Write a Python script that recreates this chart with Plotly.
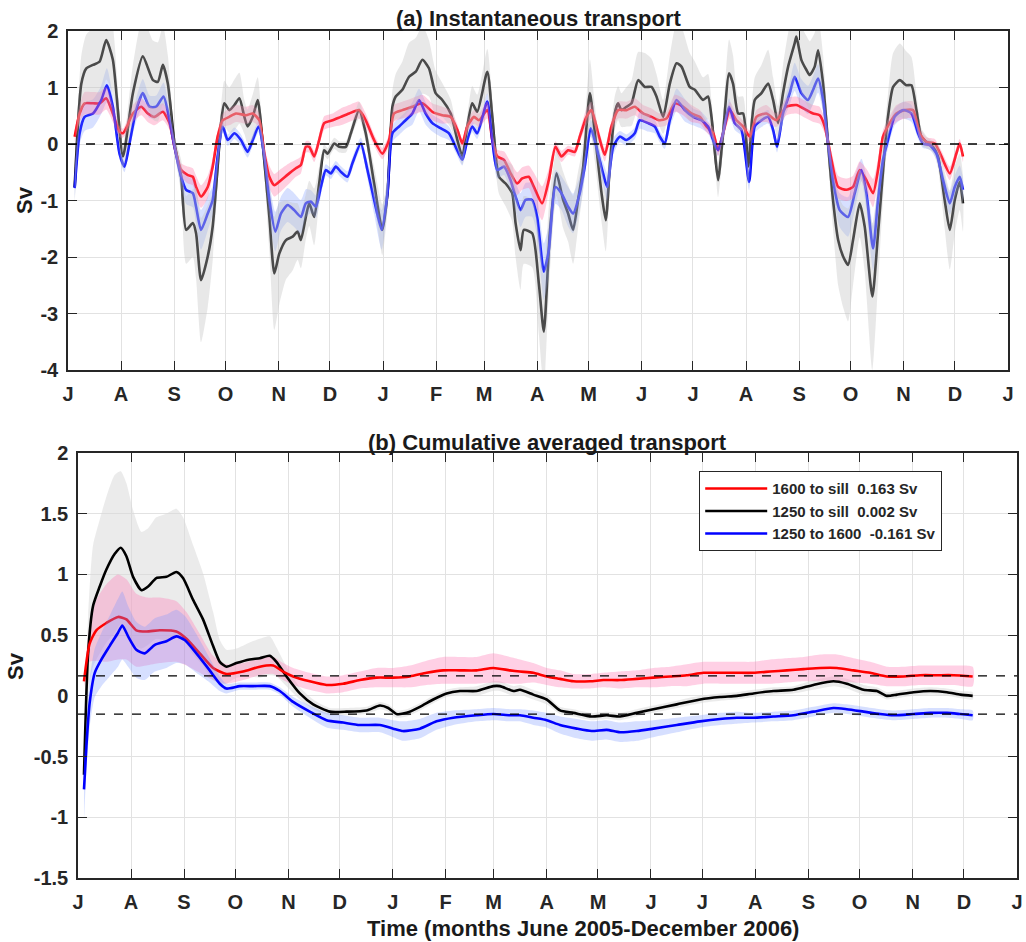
import numpy as np
import pandas as pd
import plotly.graph_objects as go

START = pd.Timestamp("2005-07-01")

# ---------------- month ticks ----------------
month_starts = pd.date_range("2005-07-01", "2007-01-01", freq="MS")
month_labels = ["J", "A", "S", "O", "N", "D", "J", "F", "M", "A", "M", "J",
                "J", "A", "S", "O", "N", "D", "J"]

# ---------------- (a) instantaneous transport ----------------
# days since 2005-07-01, value (Sv), half-width of shaded band (Sv)
a_black_day = [3.9, 7.8, 10.7, 14.6, 18.5, 22.3, 26.2, 32.1, 37.9, 43.7, 49.6, 52.5, 55.4, 58.3, 62.2, 66.1,
               69.0, 72.9, 74.8, 77.7, 81.6, 84.5, 87.4, 89.4, 91.3, 94.2, 97.2, 100.1, 103.0, 104.9, 107.9,
               110.8, 113.7, 117.6, 120.5, 123.4, 127.3, 131.2, 134.1, 136.0, 138.9, 140.9, 143.8, 146.7,
               149.6, 151.6, 155.5, 158.4, 162.3, 165.2, 170.0, 173.9, 178.8, 183.6, 186.6, 189.5, 191.4,
               195.3, 199.2, 203.1, 207.0, 210.8, 214.7, 218.6, 223.5, 227.4, 230.3, 233.2, 236.1, 239.0,
               244.9, 247.8, 251.7, 255.6, 259.4, 261.4, 264.3, 266.2, 271.1, 275.0, 277.9, 281.4, 285.3,
               289.2, 292.1, 295.0, 297.9, 300.9, 304.8, 307.7, 311.6, 314.1, 316.4, 319.3, 321.3, 323.2,
               326.2, 329.1, 333.0, 336.9, 340.8, 343.7, 347.6, 351.5, 355.4, 358.3, 363.1, 366.1, 370.9,
               373.8, 375.8, 377.7, 379.7, 382.6, 386.1, 388.4, 391.4, 394.3, 397.2, 401.1, 405.0, 408.9,
               411.8, 414.7, 417.6, 420.6, 424.4, 425.4, 428.3, 431.3, 433.2, 436.1, 438.1, 441.0, 443.9,
               446.8, 449.8, 452.7, 455.6, 458.5, 462.4, 465.3, 469.8, 473.1, 477.0, 478.9, 481.9, 485.8,
               489.6, 492.6, 495.5, 498.4, 502.3, 505.2, 508.1, 512.0, 515.0, 517.9, 520.8, 522.7]
a_black_val = [-0.76, 1.07, 1.34, 1.40, 1.46, 1.84, 1.49, -0.22, 0.90, 1.55, 1.13, 1.10, 1.40, 1.07, 0.01, -0.58,
               -1.52, -1.40, -1.58, -2.41, -1.99, -1.46, -0.40, 0.37, 0.72, 0.60, 0.69, 0.81, 0.48, 0.31, 0.48,
               0.78, 0.01, -1.29, -2.29, -1.94, -1.70, -1.64, -1.55, -1.70, -1.29, -1.05, -1.29, -0.70,
               -0.11, -0.17, 0.01, -0.05, -0.05, 0.19, 0.60, 0.19, -0.70, -1.52, -0.87, 0.66, 0.84,
               0.96, 1.19, 1.28, 1.49, 1.34, 0.90, 0.78, 0.54, 0.07, -0.22, 0.31, 0.72, 0.57,
               1.28, 0.48, -0.58, -0.70, -0.87, -1.40, -1.88, -1.52, -1.58, -2.47, -3.32, -1.58, -0.52,
               -0.99, -1.23, -1.52, -0.99, -0.40, 0.90, 0.19, -0.87, -1.35, -0.40, 0.54, 0.72, 0.60,
               0.66, 0.72, 1.13, 1.01, 1.01, 0.84, 0.48, 1.07, 1.43, 1.37, 1.01, 0.96, 0.78,
               0.84, 0.48, -0.11, -0.64, 0.19, 1.25, 1.07, 0.54, 0.54, -0.40, 0.78, 0.90, 1.07,
               0.78, 0.37, 0.90, 1.37, 1.78, 1.90, 1.49, 1.31, 1.22, 1.37, 1.66, 1.07, 0.01,
               -0.99, -1.70, -1.99, -2.14, -1.70, -1.05, -1.46, -2.70, -1.58, -0.11, 0.48, 1.01, 1.13,
               1.04, 1.04, 0.60, 0.13, 0.01, -0.05, -0.22, -0.99, -1.52, -0.99, -0.67, -1.05]
a_black_hw = [0.3, 0.5, 0.6, 0.65, 0.7, 0.7, 0.6, 0.2, 0.5, 0.7, 0.7, 0.7, 0.7, 0.5, 0.15, 0.3,
              0.6, 0.6, 0.8, 1.1, 0.9, 0.6, 0.3, 0.3, 0.4, 0.4, 0.45, 0.45, 0.3, 0.3, 0.4,
              0.4, 0.2, 0.6, 1.0, 0.9, 0.7, 0.6, 0.5, 0.5, 0.4, 0.4, 0.5, 0.3,
              0.1, 0.1, 0.1, 0.1, 0.1, 0.1, 0.15, 0.15, 0.3, 0.45, 0.3, 0.3, 0.4,
              0.5, 0.6, 0.6, 0.6, 0.5, 0.4, 0.3, 0.25, 0.15, 0.15, 0.2, 0.3, 0.3,
              0.4, 0.3, 0.3, 0.4, 0.5, 0.6, 0.7, 0.6, 0.6, 0.9, 1.0, 0.7, 0.4,
              0.5, 0.5, 0.6, 0.5, 0.4, 0.6, 0.5, 0.5, 0.55, 0.4, 0.3, 0.3, 0.3,
              0.35, 0.4, 0.5, 0.6, 0.5, 0.4, 0.3, 0.5, 0.7, 0.7, 0.6, 0.5, 0.4,
              0.4, 0.3, 0.2, 0.3, 0.3, 0.6, 0.5, 0.3, 0.3, 0.3, 0.4, 0.5, 0.6,
              0.4, 0.3, 0.5, 0.6, 0.7, 0.7, 0.6, 0.6, 0.6, 0.6, 0.6, 0.5, 0.3,
              0.5, 0.8, 0.9, 1.0, 0.8, 0.6, 0.8, 1.3, 0.9, 0.4, 0.4, 0.6, 0.65,
              0.6, 0.5, 0.3, 0.15, 0.1, 0.1, 0.2, 0.5, 0.7, 0.6, 0.5, 0.5]

a_red_day = [3.9, 6.8, 9.7, 14.6, 18.5, 22.3, 26.2, 30.1, 32.1, 34.0, 37.9, 42.8, 46.6, 50.5, 55.4, 59.3,
             62.2, 66.1, 70.0, 72.9, 74.8, 77.7, 81.6, 84.5, 87.4, 90.4, 94.2, 98.1, 104.0, 107.9, 111.7,
             114.7, 117.6, 120.5, 124.4, 129.2, 133.1, 136.0, 138.9, 140.9, 143.8, 146.7, 149.6, 154.5,
             159.3, 164.2, 170.0, 173.9, 178.8, 183.6, 187.5, 190.4, 195.3, 201.1, 207.0, 212.8, 218.6,
             223.5, 227.4, 230.3, 233.2, 237.1, 240.0, 244.9, 247.8, 250.7, 254.6, 258.5, 262.3, 265.3,
             269.1, 272.1, 276.9, 280.8, 284.7, 288.2, 292.1, 296.0, 298.9, 302.8, 305.7, 309.6, 313.5,
             317.4, 321.3, 326.2, 331.0, 335.9, 340.8, 345.6, 349.5, 354.4, 359.2, 364.1, 369.0, 372.9,
             376.8, 379.7, 382.6, 386.5, 390.4, 394.3, 398.2, 402.1, 407.9, 413.7, 419.6, 425.4, 431.3,
             435.2, 439.0, 442.0, 445.9, 449.8, 454.6, 458.5, 462.4, 466.3, 470.2, 473.1, 476.0, 479.9,
             483.8, 488.7, 493.5, 497.4, 501.3, 506.2, 510.1, 515.0, 518.8, 520.8, 522.7]
a_red_val = [0.13, 0.54, 0.72, 0.72, 0.72, 0.81, 0.54, 0.22, 0.19, 0.28, 0.54, 0.66, 0.54, 0.48, 0.57, 0.37,
             -0.05, -0.46, -0.55, -0.58, -0.76, -0.93, -0.76, -0.40, 0.13, 0.42, 0.48, 0.54, 0.51, 0.54, 0.42,
             -0.17, -0.58, -0.73, -0.64, -0.52, -0.43, -0.37, -0.05, -0.05, -0.22, 0.07, 0.37, 0.42,
             0.48, 0.54, 0.60, 0.42, 0.07, -0.17, 0.07, 0.54, 0.60, 0.66, 0.72, 0.57, 0.51,
             0.48, 0.25, 0.01, 0.31, 0.48, 0.42, 0.60, 0.07, -0.22, -0.28, -0.52, -0.70, -0.61,
             -0.58, -0.76, -1.05, -0.64, -0.05, -0.22, -0.11, -0.14, 0.13, 0.48, 0.60, 0.19, -0.19,
             0.31, 0.60, 0.60, 0.66, 0.54, 0.48, 0.42, 0.45, 0.72, 0.66, 0.54, 0.48, 0.31,
             0.19, -0.11, 0.19, 0.60, 0.42, 0.31, 0.13, 0.48, 0.54, 0.42, 0.66, 0.69, 0.60,
             0.54, 0.51, 0.31, -0.28, -0.76, -0.81, -0.76, -0.46, -0.64, -0.87, -0.46, 0.13, 0.37,
             0.54, 0.60, 0.60, 0.19, 0.04, 0.01, -0.22, -0.52, -0.17, 0.01, -0.22]
a_red_hw = [0.1, 0.15, 0.2, 0.2, 0.2, 0.2, 0.15, 0.1, 0.08, 0.1, 0.15, 0.15, 0.15, 0.15, 0.15, 0.12,
            0.1, 0.12, 0.15, 0.15, 0.2, 0.2, 0.2, 0.15, 0.1, 0.12, 0.15, 0.15, 0.15, 0.15, 0.12,
            0.12, 0.2, 0.2, 0.2, 0.18, 0.15, 0.15, 0.1, 0.1, 0.1, 0.1, 0.12, 0.12,
            0.15, 0.15, 0.15, 0.12, 0.1, 0.1, 0.1, 0.15, 0.15, 0.15, 0.15, 0.15, 0.15,
            0.12, 0.1, 0.08, 0.1, 0.12, 0.12, 0.15, 0.1, 0.12, 0.15, 0.2, 0.2, 0.2,
            0.2, 0.25, 0.3, 0.2, 0.1, 0.1, 0.08, 0.08, 0.1, 0.15, 0.15, 0.12, 0.12,
            0.12, 0.15, 0.15, 0.15, 0.15, 0.15, 0.12, 0.12, 0.15, 0.15, 0.15, 0.12, 0.1,
            0.1, 0.1, 0.1, 0.15, 0.12, 0.1, 0.1, 0.12, 0.15, 0.12, 0.15, 0.15, 0.15,
            0.15, 0.15, 0.12, 0.15, 0.2, 0.2, 0.2, 0.15, 0.2, 0.25, 0.2, 0.12, 0.12,
            0.15, 0.15, 0.15, 0.1, 0.08, 0.08, 0.1, 0.12, 0.1, 0.08, 0.1]

a_blue_day = [3.9, 6.8, 9.7, 14.6, 19.4, 22.7, 26.2, 30.1, 33.0, 35.9, 39.8, 43.7, 47.6, 51.5, 55.8, 59.3,
              62.2, 66.1, 69.0, 72.9, 74.8, 77.7, 81.6, 84.5, 87.4, 90.4, 93.3, 97.2, 101.0, 104.9, 107.9,
              111.3, 114.7, 117.6, 121.1, 124.4, 128.3, 132.1, 136.0, 138.9, 141.9, 144.8, 147.7, 150.6,
              153.5, 156.4, 159.3, 163.2, 166.1, 171.0, 174.9, 178.8, 183.2, 186.6, 189.5, 193.4, 197.2,
              201.1, 205.0, 208.9, 212.8, 217.6, 222.5, 226.4, 230.3, 233.2, 236.1, 239.0, 244.9, 247.8,
              250.7, 254.6, 258.5, 261.4, 264.3, 267.2, 271.1, 274.0, 277.9, 280.8, 284.7, 288.2, 292.1,
              295.0, 298.9, 301.8, 305.3, 308.6, 312.5, 314.9, 318.4, 322.3, 326.2, 331.0, 333.9, 338.8,
              342.7, 345.6, 348.5, 351.5, 355.4, 360.2, 365.1, 369.9, 373.8, 376.8, 379.7, 382.6, 386.1,
              389.4, 393.3, 397.8, 401.1, 405.0, 408.9, 411.8, 414.1, 417.6, 421.5, 424.4, 428.3, 432.2,
              435.2, 438.1, 441.0, 443.9, 446.8, 450.7, 455.6, 459.5, 463.4, 466.3, 470.2, 473.1, 476.0,
              478.9, 482.8, 487.7, 492.6, 496.5, 499.4, 503.3, 507.2, 511.1, 515.0, 517.9, 520.8, 522.7]
a_blue_val = [-0.78, 0.19, 0.48, 0.54, 0.78, 1.04, 0.66, -0.17, -0.40, 0.01, 0.60, 0.90, 0.66, 0.66, 0.84, 0.42,
              -0.05, -0.58, -0.81, -0.87, -1.11, -1.52, -1.23, -0.99, -0.22, 0.31, 0.07, 0.19, 0.07, -0.14, 0.07,
              0.31, -0.22, -0.99, -1.55, -1.23, -1.08, -1.17, -1.29, -1.05, -1.02, -1.11, -0.76, -0.46,
              -0.52, -0.40, -0.49, -0.58, -0.34, 0.01, -0.46, -0.99, -1.52, -0.87, 0.19, 0.31, 0.42,
              0.54, 0.78, 0.54, 0.37, 0.28, 0.19, -0.05, -0.28, 0.07, 0.31, 0.19, 0.75, 0.07,
              -0.46, -0.40, -0.64, -0.93, -1.17, -0.99, -0.99, -1.29, -2.26, -1.88, -0.76, -0.87, -1.11,
              -1.23, -0.87, -0.40, 0.28, -0.05, -0.52, -0.76, -0.05, 0.13, 0.07, 0.19, 0.42, 0.37,
              0.31, 0.13, 0.01, 0.42, 0.78, 0.60, 0.48, 0.42, 0.31, 0.07, -0.11, 0.19, 0.66,
              0.37, 0.25, -0.67, 0.31, 0.42, 0.48, 0.25, -0.05, 0.54, 0.90, 1.19, 0.90, 0.78,
              0.96, 1.16, 0.78, 0.01, -0.64, -1.17, -1.29, -0.87, -0.46, -0.87, -1.85, -0.99, -0.28,
              0.07, 0.48, 0.60, 0.54, 0.19, 0.01, -0.02, -0.17, -0.64, -1.05, -0.76, -0.58, -0.81]
a_blue_hw = [0.2, 0.2, 0.25, 0.25, 0.25, 0.3, 0.2, 0.1, 0.1, 0.1, 0.2, 0.25, 0.2, 0.2, 0.25, 0.15,
             0.1, 0.2, 0.25, 0.25, 0.3, 0.35, 0.3, 0.25, 0.15, 0.1, 0.1, 0.1, 0.1, 0.1, 0.1,
             0.1, 0.15, 0.3, 0.35, 0.3, 0.3, 0.3, 0.3, 0.25, 0.2, 0.2, 0.15, 0.1,
             0.1, 0.1, 0.1, 0.1, 0.1, 0.1, 0.15, 0.25, 0.35, 0.25, 0.15, 0.15, 0.15,
             0.2, 0.2, 0.2, 0.15, 0.15, 0.12, 0.1, 0.1, 0.1, 0.1, 0.1, 0.15, 0.1,
             0.15, 0.15, 0.2, 0.25, 0.3, 0.3, 0.3, 0.35, 0.5, 0.45, 0.3, 0.3, 0.35,
             0.35, 0.3, 0.2, 0.15, 0.15, 0.2, 0.25, 0.15, 0.1, 0.1, 0.1, 0.15, 0.15,
             0.12, 0.1, 0.1, 0.15, 0.2, 0.2, 0.15, 0.15, 0.12, 0.1, 0.1, 0.1, 0.15,
             0.12, 0.1, 0.15, 0.12, 0.12, 0.12, 0.1, 0.1, 0.15, 0.2, 0.25, 0.25, 0.25,
             0.25, 0.25, 0.2, 0.15, 0.2, 0.3, 0.35, 0.3, 0.2, 0.3, 0.4, 0.3, 0.2,
             0.15, 0.15, 0.15, 0.15, 0.1, 0.08, 0.08, 0.1, 0.15, 0.2, 0.2, 0.2, 0.2]

# ---------------- (b) cumulative averaged transport ----------------
b_black_day = [3.5, 5.9, 8.8, 12.7, 16.6, 21.5, 25.0, 28.3, 32.2, 37.1, 41.0, 45.8, 51.7, 57.5, 61.4, 67.3,
               73.1, 79.0, 82.9, 86.8, 92.6, 100.4, 106.3, 112.1, 116.0, 121.9, 129.7, 137.5, 147.2, 157.0,
               168.7, 176.5, 181.4, 186.2, 192.1, 199.9, 207.7, 215.5, 223.3, 233.0, 242.8, 246.7, 254.5,
               258.4, 266.2, 274.0, 281.8, 289.6, 300.3, 309.1, 316.9, 326.7, 336.4, 350.1, 363.7, 375.4,
               385.2, 394.9, 406.6, 418.3, 430.0, 441.7, 449.5, 459.3, 467.1, 472.9, 478.8, 488.5, 498.3,
               508.0, 515.9, 523.1]
b_black_val = [-0.65, 0.35, 0.74, 0.90, 1.04, 1.17, 1.22, 1.15, 0.98, 0.87, 0.90, 0.97, 0.98, 1.02, 0.97, 0.79,
               0.63, 0.41, 0.28, 0.24, 0.27, 0.30, 0.31, 0.33, 0.28, 0.16, 0.02, -0.07, -0.13, -0.13,
               -0.12, -0.08, -0.10, -0.15, -0.14, -0.09, -0.03, 0.02, 0.04, 0.04, 0.08, 0.08, 0.04,
               0.05, 0.01, -0.03, -0.12, -0.14, -0.17, -0.16, -0.17, -0.14, -0.11, -0.07, -0.03, -0.01,
               0.00, 0.02, 0.04, 0.05, 0.09, 0.12, 0.10, 0.05, 0.04, 0.00, 0.01, 0.03, 0.04,
               0.03, 0.01, 0.00]
b_black_hw = [0.1, 0.3, 0.5, 0.55, 0.6, 0.65, 0.63, 0.6, 0.55, 0.48, 0.48, 0.5, 0.52, 0.52, 0.5, 0.45,
              0.38, 0.28, 0.18, 0.14, 0.12, 0.14, 0.16, 0.16, 0.12, 0.08, 0.05, 0.04, 0.03, 0.03,
              0.03, 0.03, 0.03, 0.03, 0.03, 0.03, 0.03, 0.03, 0.03, 0.04, 0.04, 0.04, 0.04,
              0.04, 0.04, 0.04, 0.03, 0.03, 0.03, 0.03, 0.03, 0.03, 0.03, 0.03, 0.03, 0.03,
              0.03, 0.03, 0.03, 0.03, 0.04, 0.04, 0.04, 0.04, 0.03, 0.03, 0.03, 0.03, 0.03,
              0.03, 0.03, 0.03]

b_red_day = [3.5, 6.8, 10.7, 16.6, 23.4, 28.3, 34.1, 40.0, 47.8, 57.5, 63.4, 71.2, 79.0, 86.8, 96.5, 106.3,
             114.1, 119.9, 125.8, 135.5, 145.3, 155.0, 164.8, 174.5, 184.3, 194.0, 203.8, 213.5, 223.3,
             233.0, 242.8, 252.5, 258.4, 266.2, 274.0, 281.8, 289.6, 299.4, 307.2, 316.9, 326.7, 336.4,
             346.2, 355.9, 365.7, 375.4, 385.2, 394.9, 404.7, 414.4, 424.2, 433.9, 443.7, 453.4, 463.2,
             472.9, 482.7, 492.4, 502.2, 511.9, 523.1]
b_red_val = [0.12, 0.43, 0.54, 0.60, 0.65, 0.63, 0.54, 0.53, 0.54, 0.53, 0.47, 0.35, 0.23, 0.18, 0.20, 0.24,
             0.25, 0.20, 0.16, 0.12, 0.09, 0.10, 0.13, 0.15, 0.15, 0.16, 0.19, 0.21, 0.21,
             0.21, 0.23, 0.21, 0.20, 0.19, 0.16, 0.14, 0.12, 0.12, 0.13, 0.13, 0.14, 0.15,
             0.16, 0.17, 0.19, 0.19, 0.19, 0.19, 0.20, 0.21, 0.22, 0.23, 0.23, 0.21, 0.19,
             0.16, 0.16, 0.17, 0.17, 0.17, 0.16]
b_red_hw = [0.05, 0.15, 0.25, 0.32, 0.35, 0.33, 0.3, 0.28, 0.27, 0.25, 0.22, 0.16, 0.1, 0.08, 0.07, 0.07,
            0.07, 0.07, 0.07, 0.07, 0.07, 0.07, 0.07, 0.08, 0.08, 0.09, 0.1, 0.11, 0.11,
            0.11, 0.12, 0.11, 0.1, 0.08, 0.07, 0.07, 0.06, 0.06, 0.06, 0.07, 0.07, 0.08,
            0.08, 0.09, 0.09, 0.09, 0.09, 0.09, 0.1, 0.1, 0.1, 0.11, 0.11, 0.1, 0.09,
            0.08, 0.08, 0.08, 0.08, 0.08, 0.08]

b_blue_day = [3.5, 4.9, 6.8, 9.8, 13.7, 18.5, 23.4, 25.9, 29.3, 34.1, 39.0, 44.9, 51.7, 57.5, 62.4, 69.2,
              77.0, 82.9, 86.8, 94.6, 102.4, 112.1, 118.0, 125.8, 135.5, 145.3, 155.0, 164.8, 176.5, 184.3,
              190.1, 199.9, 209.6, 219.4, 233.0, 242.8, 252.5, 258.4, 266.2, 274.0, 281.8, 291.6, 300.3,
              309.1, 316.9, 326.7, 336.4, 350.1, 363.7, 375.4, 385.2, 394.9, 406.6, 418.3, 430.0, 441.7,
              449.5, 459.3, 469.0, 476.8, 488.5, 498.3, 508.0, 515.9, 523.1]
b_blue_val = [-0.77, -0.42, -0.06, 0.19, 0.30, 0.41, 0.52, 0.58, 0.49, 0.38, 0.35, 0.42, 0.45, 0.49, 0.46, 0.35,
              0.21, 0.10, 0.06, 0.08, 0.08, 0.08, 0.04, -0.05, -0.13, -0.20, -0.22, -0.24, -0.24, -0.27,
              -0.29, -0.27, -0.21, -0.18, -0.16, -0.15, -0.16, -0.16, -0.18, -0.20, -0.24, -0.27, -0.29,
              -0.28, -0.30, -0.29, -0.27, -0.24, -0.21, -0.19, -0.18, -0.18, -0.17, -0.16, -0.13, -0.10,
              -0.11, -0.13, -0.15, -0.16, -0.15, -0.14, -0.14, -0.15, -0.16]
b_blue_hw = [0.25, 0.2, 0.2, 0.2, 0.22, 0.25, 0.28, 0.28, 0.25, 0.23, 0.22, 0.22, 0.22, 0.22, 0.2, 0.16,
             0.1, 0.06, 0.04, 0.03, 0.03, 0.03, 0.03, 0.04, 0.05, 0.06, 0.06, 0.06, 0.06, 0.07,
             0.08, 0.08, 0.07, 0.06, 0.05, 0.05, 0.05, 0.05, 0.06, 0.06, 0.07, 0.08, 0.08,
             0.08, 0.08, 0.08, 0.07, 0.06, 0.05, 0.05, 0.05, 0.04, 0.04, 0.04, 0.04, 0.04,
             0.04, 0.04, 0.04, 0.04, 0.04, 0.04, 0.04, 0.04, 0.04]

b_ref_lines = [0.165, -0.15]
legend_names = ["1600 to sill\u00a0\u00a00.163 Sv", "1250 to sill\u00a0\u00a00.002 Sv",
                "1250 to 1600\u00a0\u00a0-0.161 Sv"]

a_yticks = [-4, -3, -2, -1, 0, 1, 2]
b_yticks = [-1.5, -1, -0.5, 0, 0.5, 1, 1.5, 2]


def to_dates(days):
    return START + pd.to_timedelta(np.asarray(days, dtype=float), unit="D")


SMOOTH = 0.6


def band(days, val, hw, color, xa, ya):
    d = list(to_dates(days))
    v = np.asarray(val)
    h = np.asarray(hw)
    up = v + h
    lo = v - h
    return go.Scatter(x=d + d[::-1], y=list(up) + list(lo[::-1]), fill="toself",
                      fillcolor=color, line=dict(width=0, shape="spline", smoothing=SMOOTH), mode="lines",
                      hoverinfo="skip", showlegend=False, xaxis=xa, yaxis=ya)


def line(days, val, color, xa, ya, name=None, show=False, rank=None, width=2.6):
    return go.Scatter(x=to_dates(days), y=val, mode="lines",
                      line=dict(color=color, width=width, shape="spline", smoothing=SMOOTH),
                      name=name, showlegend=show, legendrank=rank, xaxis=xa, yaxis=ya)


fig = go.Figure()

# ---- panel (a): lines first, translucent bands on top ----
fig.add_trace(line(a_black_day, a_black_val, "#000000", "x", "y"))
fig.add_trace(line(a_red_day, a_red_val, "#ff0000", "x", "y"))
fig.add_trace(line(a_blue_day, a_blue_val, "#0000ff", "x", "y"))
fig.add_trace(band(a_blue_day, a_blue_val, a_blue_hw, "rgba(110,145,255,0.28)", "x", "y"))
fig.add_trace(band(a_red_day, a_red_val, a_red_hw, "rgba(255,105,160,0.32)", "x", "y"))
fig.add_trace(band(a_black_day, a_black_val, a_black_hw, "rgba(195,195,195,0.38)", "x", "y"))

# ---- panel (b) ----
fig.add_trace(band(b_black_day, b_black_val, b_black_hw, "rgba(215,215,215,0.5)", "x2", "y2"))
fig.add_trace(band(b_red_day, b_red_val, b_red_hw, "rgba(255,120,180,0.35)", "x2", "y2"))
fig.add_trace(line(b_black_day, b_black_val, "#000000", "x2", "y2", legend_names[1], True, 2))
fig.add_trace(line(b_red_day, b_red_val, "#ff0000", "x2", "y2", legend_names[0], True, 1))
fig.add_trace(band(b_blue_day, b_blue_val, b_blue_hw, "rgba(120,150,255,0.3)", "x2", "y2"))
fig.add_trace(line(b_blue_day, b_blue_val, "#0000ff", "x2", "y2", legend_names[2], True, 3))

x0, x1 = month_starts[0], month_starts[-1]
fig.add_shape(type="line", xref="x", yref="y", x0=x0, x1=x1, y0=0, y1=0,
              line=dict(color="black", width=1.5, dash="dash"))
for yv in b_ref_lines:
    fig.add_shape(type="line", xref="x2", yref="y2", x0=x0, x1=x1, y0=yv, y1=yv,
                  line=dict(color="black", width=1.3, dash="dash"))

FONT = "Liberation Sans, Arial, sans-serif"
W, H = 1026, 942

xcommon = dict(type="date", range=[x0, x1], tickvals=list(month_starts), ticktext=month_labels,
               ticks="inside", ticklen=9, tickwidth=1.3, tickcolor="#262626",
               showline=True, linecolor="#262626", linewidth=1.5, mirror="allticks",
               showgrid=True, gridcolor="#e2e2e2", gridwidth=1, zeroline=False,
               tickfont=dict(family=FONT, size=20, color="#262626", weight="bold"),
               ticklabelstandoff=5, automargin=False)
ycommon = dict(ticks="inside", ticklen=9, tickwidth=1.3, tickcolor="#262626",
               showline=True, linecolor="#262626", linewidth=1.5, mirror="allticks",
               showgrid=True, gridcolor="#e2e2e2", gridwidth=1, zeroline=False,
               tickfont=dict(family=FONT, size=20, color="#262626", weight="bold"),
               ticklabelstandoff=4, automargin=False)

fig.update_layout(
    width=W, height=H, margin=dict(l=0, r=0, t=0, b=0, autoexpand=False),
    paper_bgcolor="white", plot_bgcolor="white",
    font=dict(family=FONT, color="#262626"),
    xaxis=dict(xcommon, domain=[68 / W, 1008 / W], anchor="y"),
    yaxis=dict(ycommon, domain=[1 - 370 / H, 1 - 31 / H], range=[-4, 2], anchor="x",
               tickvals=a_yticks, ticktext=[str(v) for v in a_yticks]),
    xaxis2=dict(xcommon, domain=[78 / W, 1017 / W], anchor="y2"),
    yaxis2=dict(ycommon, domain=[1 - 878 / H, 1 - 453 / H], range=[-1.5, 2], anchor="x2",
                tickvals=b_yticks, ticktext=[f"{v:g}" for v in b_yticks]),
    legend=dict(x=699 / W, y=1 - 471 / H, xanchor="left", yanchor="top",
                bgcolor="white", bordercolor="#262626", borderwidth=1.2,
                font=dict(family=FONT, size=15, color="#262626", weight="bold"),
                tracegroupgap=0, itemwidth=62),
    showlegend=True,
)

ann_font = dict(family=FONT, size=22, color="#1a1a1a", weight="bold")
fig.add_annotation(text="(a) Instantaneous transport", x=538 / W, y=1 - 19 / H, xref="paper", yref="paper",
                   showarrow=False, font=ann_font, xanchor="center", yanchor="middle")
fig.add_annotation(text="(b) Cumulative averaged transport", x=547.5 / W, y=1 - 442 / H, xref="paper",
                   yref="paper", showarrow=False, font=ann_font, xanchor="center", yanchor="middle")
fig.add_annotation(text="Time (months June 2005-December 2006)", x=582.5 / W, y=1 - 928 / H, xref="paper",
                   yref="paper", showarrow=False, font=ann_font, xanchor="center", yanchor="middle")
fig.add_annotation(text="Sv", x=25 / W, y=1 - 200 / H, xref="paper", yref="paper", showarrow=False,
                   font=ann_font, textangle=-90, xanchor="center", yanchor="middle")
fig.add_annotation(text="Sv", x=15 / W, y=1 - 666 / H, xref="paper", yref="paper", showarrow=False,
                   font=ann_font, textangle=-90, xanchor="center", yanchor="middle")

fig.write_html("out.html")
